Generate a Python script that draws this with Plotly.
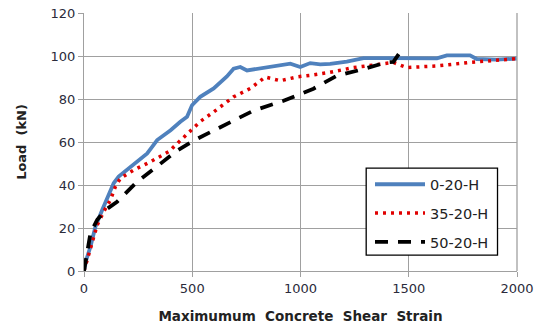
import plotly.graph_objects as go

s0_x = [0, 10, 30, 53, 84, 115, 137, 160, 215, 292, 338, 400, 445, 476, 499, 537, 599, 660, 691, 722, 753, 799, 861, 953, 999, 1045, 1091, 1137, 1214, 1291, 1400, 1476, 1630, 1676, 1783, 1814, 1906, 1999]
s0_y = [0, 5, 11.4, 20.7, 28.4, 36, 40.8, 43.9, 48.5, 54.7, 60.9, 65.5, 69.4, 71.7, 77.1, 81, 84.9, 90.5, 94.1, 94.9, 93.3, 94.1, 95.0, 96.4, 94.9, 96.7, 96.1, 96.3, 97.4, 99, 99, 99, 98.9, 100.3, 100.3, 98.6, 98.3, 98.8]

s35_x = [0, 15, 38, 61, 91, 122, 145, 168, 230, 307, 391, 445, 491, 537, 599, 691, 768, 837, 907, 984, 1060, 1130, 1245, 1350, 1429, 1491, 1630, 1783, 1999]
s35_y = [0, 5, 13, 21.4, 27.6, 33, 39.2, 43.1, 47, 50.8, 55.5, 60.7, 65.5, 69.5, 74, 81, 84.9, 90.2, 88.5, 90.3, 91.2, 92.3, 94.6, 96, 97, 94.6, 95.4, 97, 98.8]

s50_x = [0, 10, 22, 30, 61, 99, 153, 245, 338, 430, 507, 645, 783, 922, 1060, 1168, 1291, 1399, 1429, 1460]
s50_y = [0, 6, 14.5, 17.7, 23.8, 28.4, 32.2, 41.5, 48.7, 56, 60.7, 67.7, 74.6, 79.2, 84.8, 90.8, 93.9, 97.1, 97.3, 101.8]

series_names = ["0-20-H", "35-20-H", "50-20-H"]
x_ticks = [0, 500, 1000, 1500, 2000]
y_ticks = [0, 20, 40, 60, 80, 100, 120]

fig = go.Figure()
fig.add_trace(go.Scatter(x=s0_x, y=s0_y, mode="lines", name=series_names[0], legendgroup="a",
                         line=dict(color="#4F81BD", width=3.8)))
fig.add_trace(go.Scatter(x=s35_x, y=s35_y, mode="lines", name=series_names[1], legendgroup="b",
                         line=dict(color="#E00000", width=3.5, dash="3px,5px")))
fig.add_trace(go.Scatter(x=s50_x, y=s50_y, mode="lines", name=series_names[2], legendgroup="c",
                         line=dict(color="black", width=3.8, dash="13px,10px")))

axis_common = dict(showgrid=True, gridcolor="#A0A0A0", gridwidth=1.3,
                   showline=True, linecolor="#A0A0A0", linewidth=1.3,
                   ticks="outside", ticklen=5, tickcolor="#A0A0A0",
                   tickfont=dict(family="DejaVu Sans", size=13, color="#2B2B3B"),
                   zeroline=False, mirror=False, automargin=False)

fig.update_xaxes(range=[0, 2000], tickvals=x_ticks, **axis_common,
                 title=dict(text="<b>Maximumum\u00a0\u00a0Concrete\u00a0\u00a0Shear\u00a0\u00a0Strain</b>",
                            font=dict(family="DejaVu Sans", size=13.5, color="#222"), standoff=16))
fig.update_yaxes(range=[0, 120], tickvals=y_ticks, **axis_common,
                 title=dict(text="<b>Load\u00a0\u00a0(kN)</b>",
                            font=dict(family="DejaVu Sans", size=13, color="#222"), standoff=20))

fig.add_shape(type="line", xref="paper", yref="paper", x0=1, x1=1, y0=0, y1=1,
              line=dict(color="#A0A0A0", width=1.3))
# legend frame
fig.add_shape(type="rect", xref="paper", yref="paper", x0=0.6517, x1=0.955, y0=0.0619, y1=0.3985,
              line=dict(color="black", width=1.3), fillcolor="white", layer="above")

fig.update_layout(
    width=539, height=329,
    margin=dict(l=83.5, r=22, t=12.5, b=58),
    plot_bgcolor="white", paper_bgcolor="white",
    legend=dict(x=0.6605, y=0.398, xanchor="left", yanchor="top",
                borderwidth=0, bgcolor="rgba(0,0,0,0)",
                font=dict(family="DejaVu Sans", size=14.5, color="#222"),
                tracegroupgap=7, itemwidth=50),
    showlegend=True,
)

fig.write_html("out.html")
